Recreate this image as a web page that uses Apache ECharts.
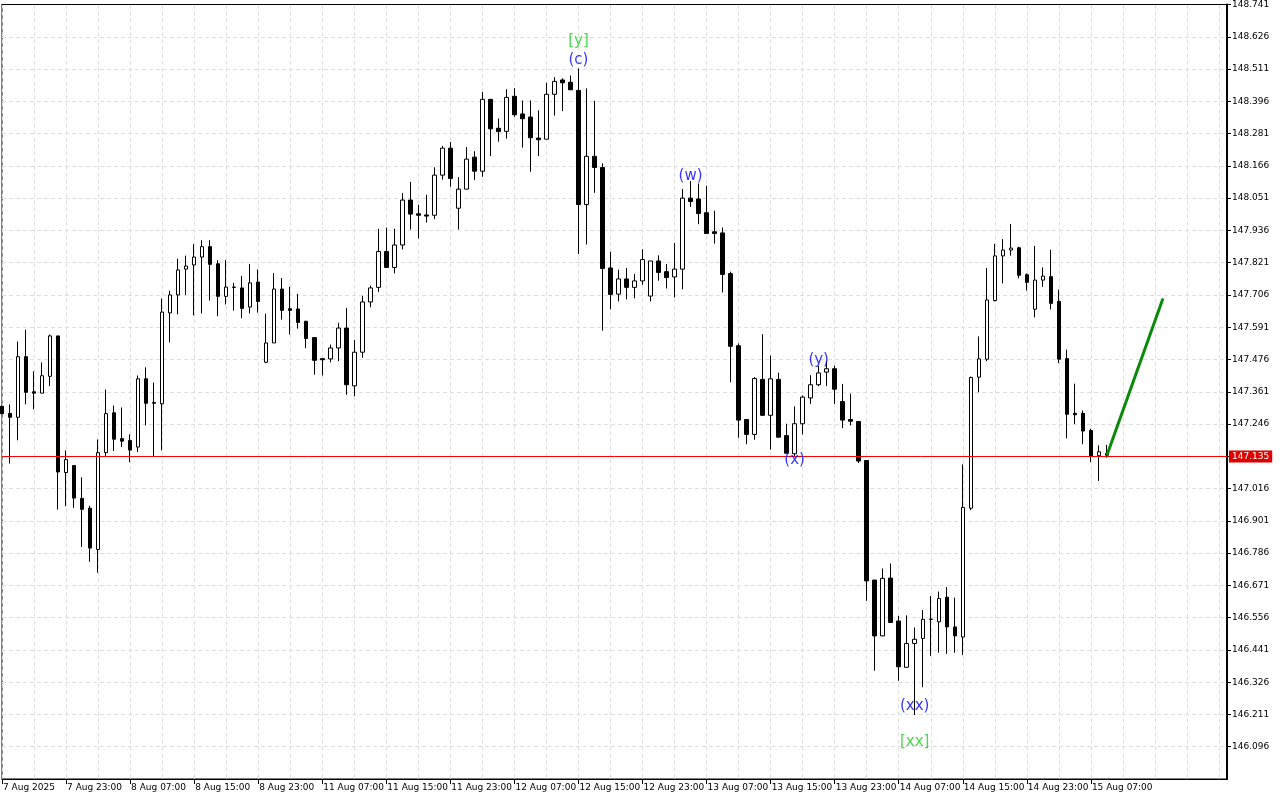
<!DOCTYPE html>
<html><head><meta charset="utf-8">
<script src="https://cdn.jsdelivr.net/npm/echarts@6/dist/echarts.min.js"></script>
<style>html,body{margin:0;padding:0;background:#fff}#c{width:1280px;height:800px}</style>
</head><body><div id="c"></div>
<script>
// time axis labels, one every 8 hourly bars
const timeLabels = ['7 Aug 2025','7 Aug 23:00','8 Aug 07:00','8 Aug 15:00','8 Aug 23:00','11 Aug 07:00','11 Aug 15:00','11 Aug 23:00','12 Aug 07:00','12 Aug 15:00','12 Aug 23:00','13 Aug 07:00','13 Aug 15:00','13 Aug 23:00','14 Aug 07:00','14 Aug 15:00','14 Aug 23:00','15 Aug 07:00'];

const opens = [147.309,147.284,147.270,147.486,147.361,147.356,147.416,147.560,147.073,147.098,
146.981,146.946,146.799,147.144,147.286,147.194,147.187,147.164,147.407,147.323,
147.318,147.642,147.706,147.798,147.813,147.841,147.878,147.817,147.701,147.734,
147.731,147.663,147.752,147.466,147.535,147.727,147.657,147.656,147.612,147.554,
147.479,147.478,147.517,147.588,147.382,147.502,147.681,147.733,147.861,147.804,
147.884,148.044,147.995,147.991,147.990,148.133,148.229,148.015,148.083,148.197,
148.147,148.403,148.300,148.289,148.414,148.351,148.340,148.265,148.261,148.421,
148.472,148.464,148.435,148.028,148.200,148.160,147.802,147.709,147.763,147.733,
147.756,147.702,147.827,147.789,147.770,147.798,148.051,148.048,147.999,147.931,
147.927,147.782,147.525,147.262,147.209,147.405,147.277,147.405,147.205,147.140,
147.247,147.339,147.386,147.431,147.443,147.326,147.262,147.255,147.116,146.690,
146.491,146.697,146.544,146.379,146.464,146.482,146.551,146.541,146.629,146.523,
146.487,146.946,147.413,147.477,147.686,147.845,147.866,147.874,147.778,147.655,
147.759,147.771,147.683,147.479,147.284,147.284,147.223,147.133,147.141];

const closes = [147.283,147.270,147.486,147.359,147.356,147.418,147.560,147.075,147.119,146.982,
146.942,146.804,147.144,147.283,147.192,147.185,147.153,147.407,147.320,147.320,
147.645,147.706,147.795,147.809,147.841,147.878,147.815,147.701,147.734,147.733,
147.658,147.749,147.683,147.535,147.727,147.651,147.651,147.608,147.551,147.473,
147.475,147.517,147.588,147.386,147.502,147.681,147.731,147.861,147.804,147.884,
148.044,147.994,147.990,147.987,148.133,148.229,148.121,148.083,148.190,148.147,
148.403,148.298,148.288,148.410,148.348,148.334,148.266,148.259,148.421,148.467,
148.462,148.437,148.028,148.200,148.160,147.800,147.708,147.763,147.733,147.756,
147.832,147.827,147.786,147.768,147.798,148.051,148.039,147.996,147.925,147.925,
147.779,147.523,147.260,147.209,147.408,147.277,147.407,147.199,147.142,147.247,
147.342,147.386,147.428,147.443,147.370,147.260,147.256,147.114,146.687,146.491,
146.696,146.539,146.381,146.464,146.479,146.550,146.550,146.624,146.523,146.491,
146.949,147.412,147.478,147.688,147.845,147.866,147.873,147.776,147.751,147.759,
147.773,147.676,147.477,147.281,147.279,147.221,147.132,147.147,147.135];

const lows = [147.280,147.105,147.188,147.316,147.298,147.356,147.381,146.941,146.953,146.947,
146.808,146.755,146.716,147.128,147.150,147.164,147.110,147.146,147.241,147.132,
147.152,147.537,147.637,147.706,147.633,147.640,147.686,147.630,147.672,147.650,
147.623,147.640,147.643,147.463,147.535,147.618,147.565,147.586,147.516,147.422,
147.419,147.466,147.470,147.350,147.345,147.482,147.662,147.717,147.803,147.783,
147.868,147.939,147.907,147.964,147.976,148.117,148.092,147.939,148.083,148.115,
148.127,148.201,148.252,148.263,148.341,148.231,148.145,148.201,148.261,148.345,
148.361,148.437,147.852,147.886,148.070,147.579,147.655,147.683,147.690,147.694,
147.742,147.683,147.757,147.729,147.697,147.726,148.020,147.958,147.925,147.889,
147.715,147.395,147.197,147.174,147.190,147.276,147.155,147.199,147.141,147.131,
147.209,147.318,147.381,147.381,147.318,147.231,147.241,147.107,146.616,146.367,
146.490,146.539,146.331,146.378,146.209,146.308,146.420,146.431,146.427,146.431,
146.423,146.939,147.359,147.470,147.683,147.747,147.846,147.765,147.721,147.626,
147.735,147.654,147.463,147.195,147.246,147.174,147.110,147.043,147.126];

const highs = [147.312,147.316,147.540,147.582,147.434,147.465,147.565,147.560,147.152,147.098,
147.056,146.955,147.191,147.369,147.312,147.305,147.209,147.419,147.448,147.394,
147.693,147.721,147.835,147.846,147.887,147.901,147.901,147.830,147.830,147.749,
147.774,147.816,147.797,147.639,147.784,147.766,147.735,147.710,147.614,147.554,
147.479,147.529,147.607,147.660,147.546,147.703,147.739,147.942,147.946,147.942,
148.069,148.109,148.027,148.063,148.161,148.237,148.251,148.126,148.233,148.218,
148.429,148.403,148.335,148.439,148.443,148.399,148.399,148.364,148.462,148.482,
148.478,148.488,148.513,148.442,148.398,148.175,147.860,147.796,147.802,147.781,
147.869,147.827,147.847,147.816,147.891,148.084,148.112,148.103,148.095,148.006,
147.946,147.789,147.533,147.262,147.413,147.566,147.490,147.429,147.247,147.309,
147.348,147.420,147.454,147.470,147.454,147.389,147.354,147.255,147.116,146.690,
146.731,146.749,146.562,146.564,146.521,146.583,146.633,146.649,146.665,146.627,
147.102,147.415,147.558,147.802,147.888,147.905,147.959,147.878,147.783,147.881,
147.804,147.867,147.725,147.511,147.390,147.294,147.229,147.170,147.172];

const slotCount = 154;           // hourly slots on the time axis (bars + empty future space)
const priceMin = 145.981, priceMax = 148.741, priceStep = 0.115;
const lastPrice = 147.135;
const projectionX = [138, 145];
const projectionY = [147.135, 147.693];
const waveText  = ['[y]', '(c)', '(w)', '(x)', '(y)', '(xx)', '[xx]'];
const waveBar   = [72, 72, 86, 99, 102, 114, 114];
const wavePrice = [148.612, 148.543, 148.130, 147.116, 147.472, 146.241, 146.113];
const waveColor = ['#22cc22', '#0000ff', '#0000ff', '#0000ff', '#0000ff', '#0000ff', '#22cc22'];

const categories = Array.from({length: slotCount}, (_, i) => String(i));
const candleData = opens.map((o, i) => [o, closes[i], lows[i], highs[i]]);
const FONT = 'DejaVu Sans';
const isLabelSlot = (i) => i % 8 === 0 && (i / 8) < timeLabels.length;

const chart = echarts.init(document.getElementById('c'), null, {renderer: 'canvas'});
chart.setOption({
  animation: false,
  backgroundColor: '#ffffff',
  grid: {left: 2, right: 53, top: 3, bottom: 21, show: true, borderColor: '#000', borderWidth: 1, backgroundColor: '#fff'},
  xAxis: [{
    type: 'category', data: categories, boundaryGap: false,
    axisLine: {show: true, lineStyle: {color: '#000', width: 1}},
    axisTick: {show: true, length: 5, lineStyle: {color: '#000'}, interval: isLabelSlot},
    axisLabel: {
      interval: isLabelSlot,
      formatter: (v, i) => timeLabels[Math.round(Number(v) / 8)] || '',
      align: 'left', margin: 4, padding: [0, 0, 0, 1],
      color: '#000', fontFamily: FONT, fontSize: 9
    },
    splitLine: {show: true, interval: (i) => i % 4 === 0, lineStyle: {color: '#dedede', type: [4, 3], width: 1}}
  }, {
    type: 'category', data: categories, boundaryGap: false, position: 'top',
    axisLine: {show: true, onZero: false, lineStyle: {color: '#000', width: 1}},
    axisTick: {show: false}, axisLabel: {show: false}, splitLine: {show: false}
  }],
  yAxis: {
    type: 'value', position: 'right', scale: true,
    min: priceMin, max: priceMax, interval: priceStep,
    axisLine: {show: true, lineStyle: {color: '#000', width: 2}},
    axisTick: {show: true, length: 4, lineStyle: {color: '#000'}},
    axisLabel: {
      showMinLabel: false, margin: 5, color: '#000', fontFamily: FONT, fontSize: 9,
      formatter: (v) => (Math.abs(v - lastPrice) < 0.02 ? '' : v.toFixed(3))
    },
    splitLine: {show: true, lineStyle: {color: '#dedede', type: [4, 3], width: 1}}
  },
  series: [
    {
      type: 'candlestick', data: candleData, barWidth: 4, clip: true, silent: true,
      itemStyle: {color: '#ffffff', color0: '#000000', borderColor: '#000000', borderColor0: '#000000', borderColorDoji: '#000000', borderWidth: 1},
      markLine: {
        silent: true, symbol: ['none', 'none'], animation: false,
        lineStyle: {color: '#ff0000', width: 1, type: 'solid'},
        label: {show: true, position: 'end', distance: 2, formatter: lastPrice.toFixed(3),
          color: '#fff', backgroundColor: '#e00000', padding: [2, 3, 1, 3], fontFamily: FONT, fontSize: 9},
        data: [{yAxis: lastPrice}]
      }
    },
    {
      type: 'line', data: projectionX.map((x, i) => [x, projectionY[i]]),
      symbol: 'none', silent: true, lineStyle: {color: '#0a8a0a', width: 3}, z: 5
    },
    {
      type: 'scatter', symbolSize: 1, silent: true, itemStyle: {color: 'rgba(0,0,0,0)'}, z: 6,
      data: waveText.map((t, k) => ({
        value: [waveBar[k], wavePrice[k]],
        label: {show: true, position: 'inside', formatter: t, color: waveColor[k], fontFamily: FONT, fontSize: 15}
      }))
    }
  ]
});
</script>
</body></html>
